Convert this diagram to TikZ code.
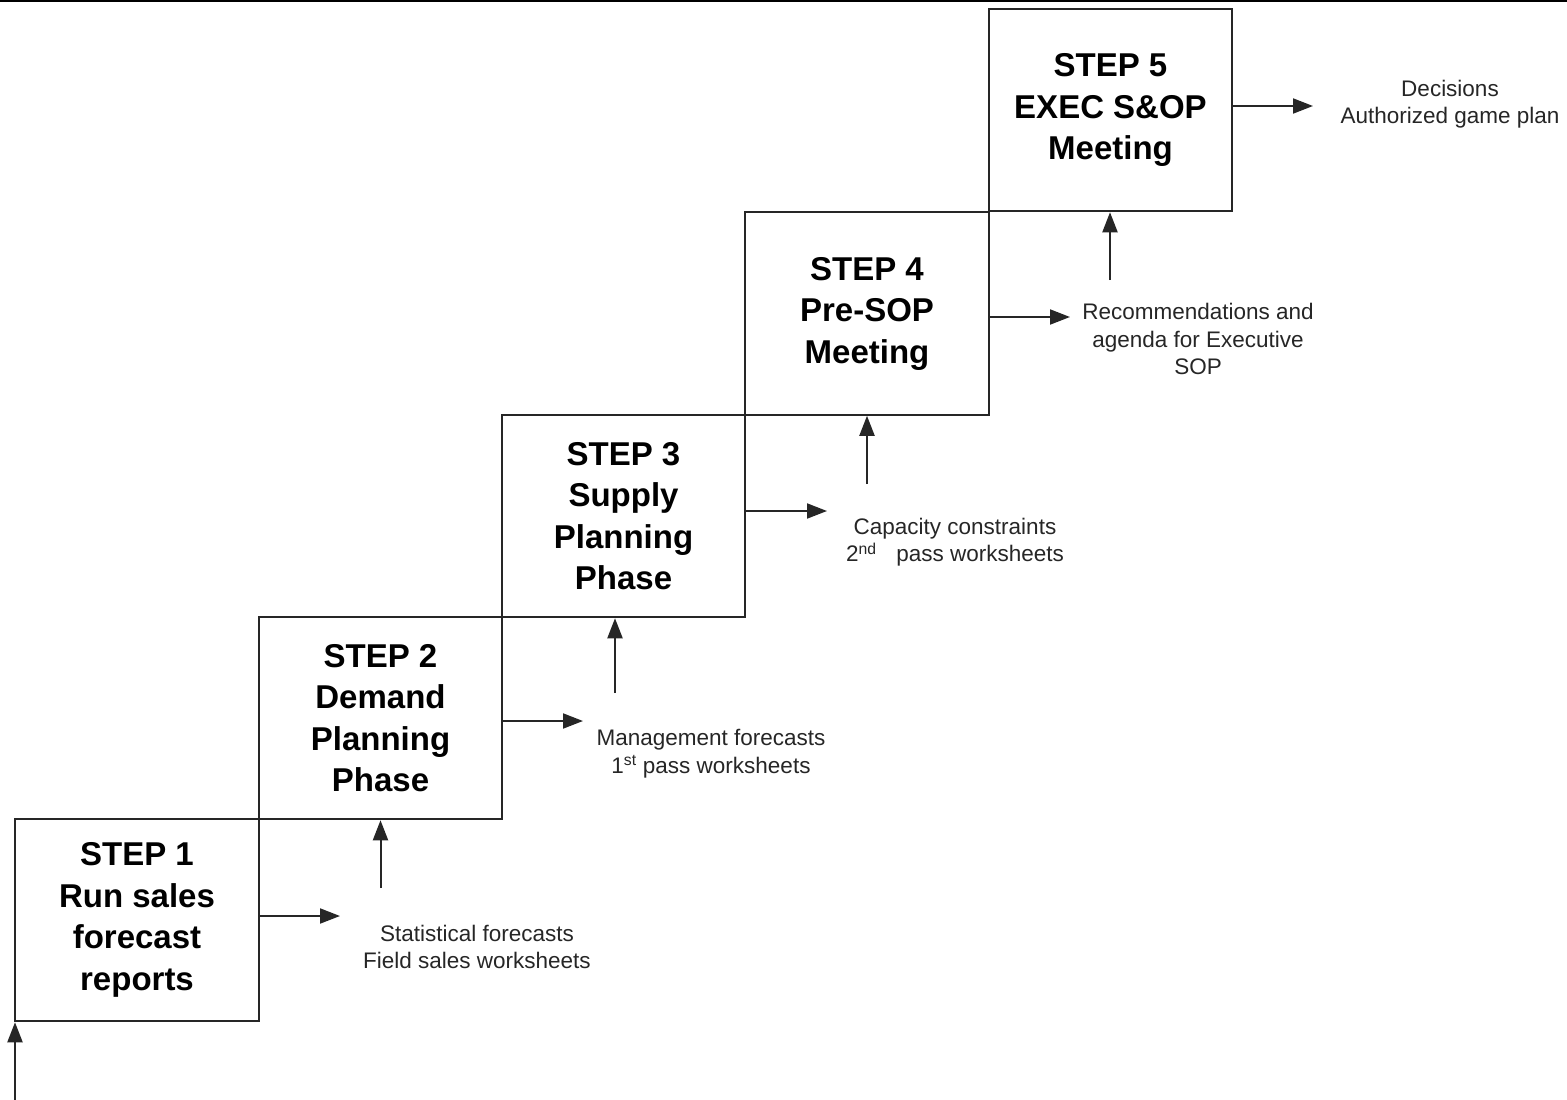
\documentclass[tikz,border=0pt]{standalone}
\usepackage{fontspec}
\setmainfont{Liberation Sans}
\usetikzlibrary{arrows.meta}
\begin{document}
\begin{tikzpicture}[x=1pt,y=-1pt,
  stepbox/.style={draw=black!85, line width=2pt, rectangle, inner sep=0pt,
    minimum width=243.5pt, minimum height=202.5pt, align=center,
    font=\fontsize{33}{41.5}\selectfont\bfseries},
  outlabel/.style={align=center, inner sep=0pt, text=black!85,
    font=\fontsize{22.5}{27.5}\selectfont},
  flow/.style={draw=black!85, line width=2pt,
    -{Triangle[length=20pt,width=15pt]}}]
  \useasboundingbox (0,0) rectangle (1567,1100);
  % rule along the top edge
  \draw[line width=2.5pt] (0,1) -- (1567,1);

  % the five steps, rising left to right
  \node[stepbox] (b1) at (137,920)    {STEP 1\\Run sales\\forecast\\reports};
  \node[stepbox] (b2) at (380.5,718)  {STEP 2\\Demand\\Planning\\Phase};
  \node[stepbox] (b3) at (623.5,516)  {STEP 3\\Supply\\Planning\\Phase};
  \node[stepbox] (b4) at (867,313.5)  {STEP 4\\Pre-SOP\\Meeting};
  \node[stepbox] (b5) at (1110.5,110) {STEP 5\\EXEC S\&OP\\Meeting};

  % outputs of each step
  \node[outlabel] (l1) at (477,947)  {Statistical forecasts\\Field sales worksheets};
  \node[outlabel] (l2) at (711,753.5) {Management forecasts\\1\textsuperscript{st} pass worksheets};
  \node[outlabel] (l3) at (955,542)  {Capacity constraints\\2\textsuperscript{nd}\hspace{0.6em} pass worksheets};
  \node[outlabel] (l4) at (1198,339) {Recommendations and\\agenda for Executive\\SOP};
  \node[outlabel] (l5) at (1450,104) {Decisions\\Authorized game plan};

  % arrow tips of the output arrows
  \coordinate (o1) at (340,916);
  \coordinate (o2) at (583,721);
  \coordinate (o3) at (827,511);
  \coordinate (o4) at (1070,317);
  \coordinate (o5) at (1313,106);
  \draw[flow] (b1.east |- o1) -- (o1);
  \draw[flow] (b2.east |- o2) -- (o2);
  \draw[flow] (b3.east |- o3) -- (o3);
  \draw[flow] (b4.east |- o4) -- (o4);
  \draw[flow] (b5.east |- o5) -- (o5);

  % feeds rising into each step
  \coordinate (i1) at (15,1100);
  \coordinate (i2) at (380.5,888);
  \coordinate (i3) at (615,693);
  \coordinate (i4) at (867,484);
  \coordinate (i5) at (1110,280);
  \draw[flow] (i1) -- (i1 |- b1.south);
  \draw[flow] (i2) -- (i2 |- b2.south);
  \draw[flow] (i3) -- (i3 |- b3.south);
  \draw[flow] (i4) -- (i4 |- b4.south);
  \draw[flow] (i5) -- (i5 |- b5.south);
\end{tikzpicture}
\end{document}
